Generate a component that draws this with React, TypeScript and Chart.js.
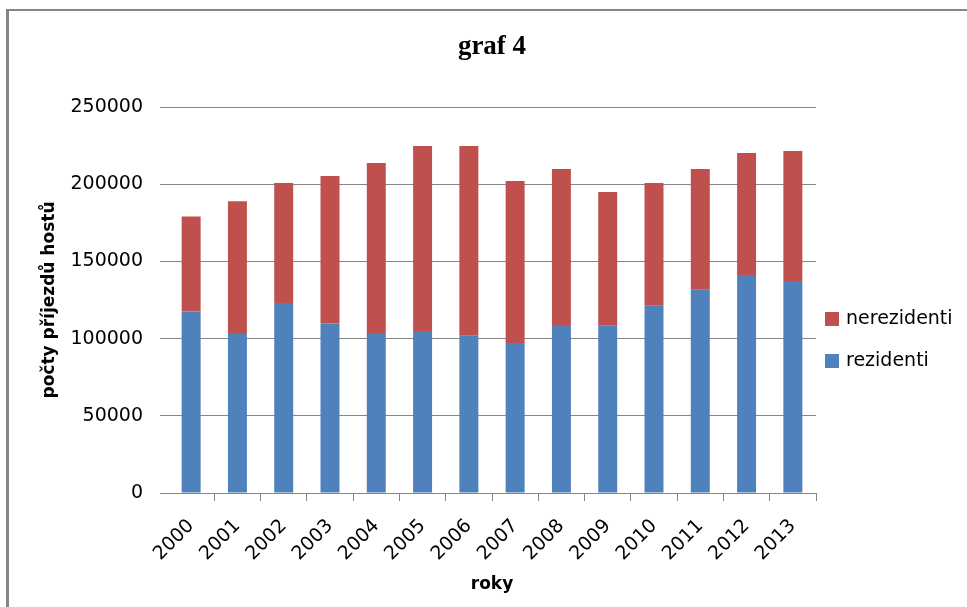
import React, { useEffect, useRef } from "react";
import { Chart, registerables } from "chart.js";

Chart.register(...registerables);

const years = ["2000", "2001", "2002", "2003", "2004", "2005", "2006", "2007", "2008", "2009", "2010", "2011", "2012", "2013"];
const rezidenti = [117500, 103600, 123000, 109700, 103600, 104900, 101900, 97200, 108800, 108400, 121300, 131700, 141200, 137300];
const nerezidenti = [61500, 85400, 77800, 95600, 110100, 119800, 122800, 104800, 101000, 86600, 79500, 78100, 79000, 84200];
const yMin = 0;
const yMax = 250000;
const yStep = 50000;

const GRID = "#868686";
const SANS = "'DejaVu Sans', sans-serif";

const sideLegend = {
  id: "sideLegend",
  afterDraw(chart: any) {
    const ctx = chart.ctx;
    const area = chart.chartArea;
    const items = chart.data.datasets.map((d: any) => d).reverse();
    ctx.save();
    ctx.font = `19px ${SANS}`;
    ctx.textBaseline = "middle";
    ctx.textAlign = "left";
    items.forEach((ds: any, i: number) => {
      const cy = area.top + 212 + i * 42;
      const bx = area.right + 9;
      ctx.fillStyle = ds.backgroundColor;
      ctx.fillRect(bx, cy - 7, 14, 14);
      ctx.fillStyle = "#000";
      ctx.fillText(ds.label, bx + 21, cy);
    });
    ctx.restore();
  },
};

export default function App() {
  const ref = useRef<HTMLCanvasElement | null>(null);

  useEffect(() => {
    if (!ref.current) return;
    const chart = new Chart(ref.current, {
      type: "bar",
      data: {
        labels: years,
        datasets: [
          {
            label: "rezidenti",
            data: rezidenti,
            backgroundColor: "#4F81BD",
            barPercentage: 0.41,
            categoryPercentage: 1,
          },
          {
            label: "nerezidenti",
            data: nerezidenti,
            backgroundColor: "#C0504D",
            barPercentage: 0.41,
            categoryPercentage: 1,
          },
        ],
      },
      options: {
        animation: false,
        responsive: false,
        devicePixelRatio: 1,
        layout: { padding: { left: 0, right: 151, top: 0, bottom: 0 } },
        plugins: {
          legend: { display: false },
          tooltip: { enabled: false },
          title: {
            display: true,
            fullSize: false,
            text: "graf 4",
            color: "#000",
            font: { family: "'Liberation Serif', serif", size: 27, weight: "bold" },
            padding: { top: 31, bottom: 43.6 },
          },
        },
        scales: {
          x: {
            stacked: true,
            offset: true,
            grid: {
              display: true,
              drawOnChartArea: false,
              drawTicks: true,
              tickLength: 8,
              offset: true,
              color: (c: any) => (c.index === 0 ? "rgba(0,0,0,0)" : GRID),
              lineWidth: 1,
            },
            border: { display: true, color: GRID, width: 1 },
            ticks: {
              autoSkip: false,
              minRotation: 45,
              maxRotation: 45,
              padding: 14,
              color: "#000",
              font: { family: SANS, size: 19 },
            },
            title: {
              display: true,
              text: "roky",
              color: "#000",
              font: { family: SANS, size: 17, weight: "bold" },
              padding: { top: 0, bottom: 12 },
            },
            afterFit: (s: any) => {
              s.height = 114;
            },
          },
          y: {
            stacked: true,
            min: yMin,
            max: yMax,
            grid: { color: GRID, lineWidth: 1, drawTicks: true, tickLength: 8 },
            border: { display: false },
            ticks: {
              stepSize: yStep,
              padding: 17,
              color: "#000",
              font: { family: SANS, size: 19 },
              callback: (v: any) => String(v),
            },
            title: {
              display: true,
              text: "počty příjezdů hostů",
              color: "#000",
              font: { family: SANS, size: 17, weight: "bold" },
              padding: { top: 39, bottom: 0 },
            },
            afterFit: (s: any) => {
              s.width = 168;
            },
          },
        },
      },
      plugins: [sideLegend],
    } as any);
    return () => chart.destroy();
  }, []);

  return (
    <div
      style={{
        position: "absolute",
        left: 0,
        top: 0,
        width: 967,
        height: 607,
        overflow: "hidden",
        background: "#fff",
      }}
    >
      <div
        style={{
          position: "absolute",
          left: 6,
          top: 9,
          width: 2000,
          height: 2000,
          borderLeft: `3px solid ${GRID}`,
          borderTop: `2px solid ${GRID}`,
        }}
      />
      <canvas
        ref={ref}
        width={967}
        height={607}
        style={{ position: "absolute", left: 0, top: 0, width: 967, height: 607 }}
      />
    </div>
  );
}
